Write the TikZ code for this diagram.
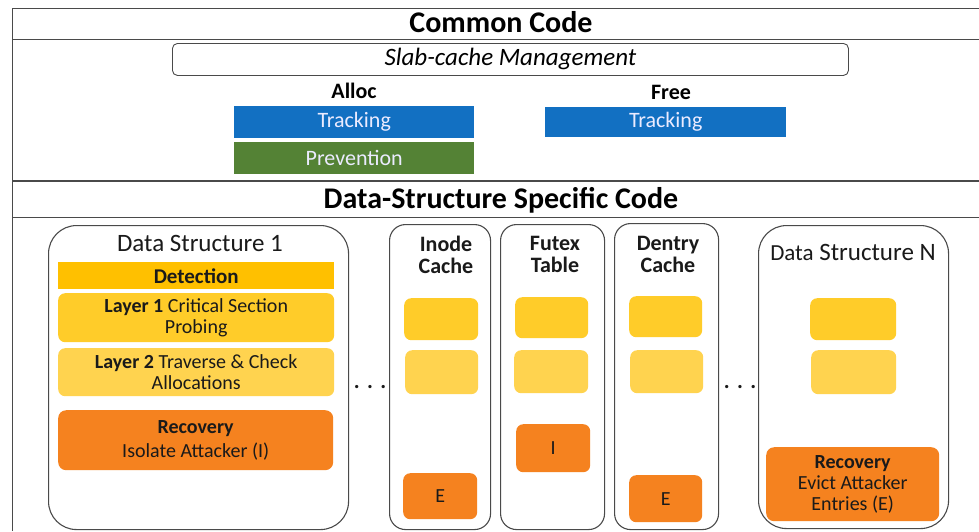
\documentclass[tikz,border=0pt]{standalone}
\usepackage{fontspec}
\setmainfont{Carlito}
\definecolor{frame}{HTML}{4A4A4A}
\definecolor{trackblue}{HTML}{1270C2}
\definecolor{prevgreen}{HTML}{548235}
\definecolor{detect}{HTML}{FFC000}
\definecolor{layerone}{HTML}{FFCC29}
\definecolor{layertwo}{HTML}{FFD34F}
\definecolor{recover}{HTML}{F5821F}
\definecolor{ink}{HTML}{1A1A1A}
\newcommand{\fs}[2]{\fontsize{#1}{#2}\selectfont}
\tikzset{
  corner/.style={anchor=north west, inner sep=0pt, align=center},
  flatbox/.style={corner, minimum width=#1},
  tile/.style={corner, rounded corners=7pt, text=ink},
  holder/.style={corner, draw=frame, line width=1.1pt},
  heading/.style={font=\bfseries\fs{30}{32}},
  label/.style={font=\bfseries\fs{22}{22}},
  plain/.style={font=\fs{22}{22}, text=white!92!blue},
  body/.style={font=\fs{20}{21}},
  coltitle/.style={font=\bfseries\fs{22}{22}, align=center, text=ink},
  dots/.style={font=\bfseries\fs{22}{22}, text=ink},
  rule/.style={draw=frame, line width=1pt},
}
\begin{document}
\begin{tikzpicture}[x=1pt,y=-1pt]
\useasboundingbox (0,0) rectangle (979,531);
\fill[white] (0,0) rectangle (979,531);

% outer frame and section rules
\coordinate (tl) at (12,8);
\coordinate (tr) at (979,8);
\coordinate (bl) at (12,531);
\coordinate (r1l) at (12,39);  \coordinate (r1r) at (979,39);
\coordinate (r2l) at (12,181); \coordinate (r2r) at (979,181);
\coordinate (r3l) at (12,217); \coordinate (r3r) at (979,217);
\draw[rule] (bl) -- (tl) -- (tr);
\draw[rule] (r1l) -- (r1r);
\draw[rule, line width=2pt] (r2l) -- (r2r);
\draw[rule] (r3l) -- (r3r);

% common code
\node[heading] (common) at (501,22) {Common Code};
\node[holder, rounded corners=5pt, line width=0.9pt, minimum width=676pt, minimum height=32pt,
      font=\itshape\fs{25}{25}] (slab) at (172,43) {Slab-cache Management};
\node[label] (alloc) at (354,91) {Alloc};
\node[label] (free) at (671,92) {Free};
\node[flatbox=240pt, minimum height=32pt, fill=trackblue, plain] (atrack) at (234,106) {Tracking};
\node[flatbox=240pt, minimum height=32pt, fill=prevgreen, plain] (aprev) at (234,142) {Prevention};
\node[flatbox=241pt, minimum height=30pt, fill=trackblue, plain] (ftrack) at (545,107) {Tracking};

% data-structure specific code
\node[heading] (specific) at (501,200) {Data-Structure Specific Code};

% data structure 1
\node[holder, rounded corners=28pt, minimum width=300pt, minimum height=304pt] (ds1) at (48,225) {};
\node[font=\fs{25}{25}, text=ink] (ds1t) at (200,243) {Data Structure 1};
\node[flatbox=276pt, minimum height=27pt, fill=detect, text=ink, font=\bfseries\fs{21}{21}] (det) at (58,262) {Detection};
\node[tile, minimum width=276pt, minimum height=49pt, fill=layerone, body] (lay1) at (58,293)
  {\textbf{Layer 1} Critical Section\\Probing};
\node[tile, minimum width=276pt, minimum height=48pt, fill=layertwo, body] (lay2) at (58,348)
  {\textbf{Layer 2} Traverse \& Check\\Allocations};
\node[tile, rounded corners=8pt, minimum width=275pt, minimum height=60pt, fill=recover,
      font=\fs{20}{24}] (rec1) at (58,410)
  {\textbf{Recovery}\\Isolate Attacker (I)};

\node[dots] (dotsa) at (370,387) {.\,\,.\,\,.};

% inode cache
\node[holder, rounded corners=16pt, minimum width=101pt, minimum height=305pt] (inode) at (389,224) {};
\node[coltitle] (inodet) at (446,255) {Inode\\Cache};
\node[tile, minimum width=74pt, minimum height=42pt, fill=layerone] (in1) at (404,298) {};
\node[tile, minimum width=73pt, minimum height=44pt, fill=layertwo] (in2) at (405,350) {};
\node[tile, minimum width=74pt, minimum height=46pt, fill=recover, body] (in3) at (403,473) {E};

% futex table
\node[holder, rounded corners=16pt, minimum width=104pt, minimum height=305pt] (futex) at (500,224) {};
\node[coltitle] (futext) at (555,254) {Futex\\Table};
\node[tile, minimum width=73pt, minimum height=41pt, fill=layerone] (fu1) at (515,297) {};
\node[tile, minimum width=74pt, minimum height=43pt, fill=layertwo] (fu2) at (514,350) {};
\node[tile, minimum width=74pt, minimum height=48pt, fill=recover, body] (fu3) at (516,424) {I};

% dentry cache
\node[holder, rounded corners=16pt, minimum width=104pt, minimum height=306pt] (dentry) at (614,223) {};
\node[coltitle] (dentryt) at (668,254) {Dentry\\Cache};
\node[tile, minimum width=73pt, minimum height=41pt, fill=layerone] (de1) at (629,296) {};
\node[tile, minimum width=73pt, minimum height=43pt, fill=layertwo] (de2) at (630,350) {};
\node[tile, minimum width=73pt, minimum height=47pt, fill=recover, body] (de3) at (629,475) {E};

\node[dots] (dotsb) at (740,387) {.\,\,.\,\,.};

% data structure N
\node[holder, rounded corners=28pt, minimum width=190pt, minimum height=303pt] (dsn) at (758,225) {};
\node[font=\fs{25}{25}, text=ink] (dsnt) at (853,252) {{\fs{23}{23}Data} Structure N};
\node[tile, minimum width=86pt, minimum height=42pt, fill=layerone] (dn1) at (810,298) {};
\node[tile, minimum width=85pt, minimum height=44pt, fill=layertwo] (dn2) at (811,350) {};
\node[tile, rounded corners=8pt, minimum width=173pt, minimum height=74pt, fill=recover, body] (recn) at (766,447)
  {\textbf{Recovery}\\Evict Attacker\\Entries (E)};
\end{tikzpicture}
\end{document}
